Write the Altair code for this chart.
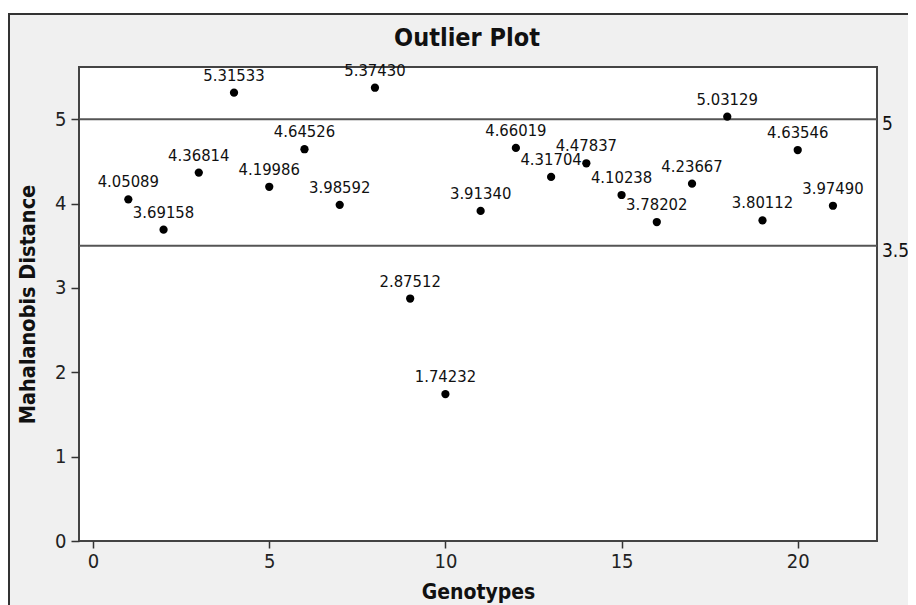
import altair as alt
import pandas as pd

genotypes = list(range(1, 22))
distances = [4.05089, 3.69158, 4.36814, 5.31533, 4.19986, 4.64526, 3.98592,
             5.37430, 2.87512, 1.74232, 3.91340, 4.66019, 4.31704, 4.47837,
             4.10238, 3.78202, 4.23667, 5.03129, 3.80112, 4.63546, 3.97490]
point_labels = [f"{v:.5f}" for v in distances]
ref_values = [5, 3.5]
ref_labels = ["5", "3.5"]
x_ticks = [0, 5, 10, 15, 20]
y_ticks = [0, 1, 2, 3, 4, 5]
title_text = "Outlier Plot"

W, H = 798, 474
FONT = "DejaVu Sans Condensed, DejaVu Sans"

df = pd.DataFrame({"g": genotypes, "d": distances, "lab": point_labels})
refdf = pd.DataFrame({"v": ref_values, "lab": ref_labels})
one = pd.DataFrame({"t": [title_text]})

xscale = alt.Scale(domain=[-0.4, 22.25], nice=False, zero=False)
yscale = alt.Scale(domain=[0, 5.62], nice=False, zero=False)

xaxis = alt.Axis(values=x_ticks, title="Genotypes", grid=False, domain=False,
                 tickSize=7, tickColor="#333", tickWidth=1.5, format="d",
                 labelFontSize=20, labelFont=FONT, labelColor="#222", labelPadding=3,
                 titleFontSize=21, titleFontWeight="bold", titleFont=FONT, titleColor="#111",
                 titleY=57, titleBaseline="alphabetic", zindex=1)
yaxis = alt.Axis(values=y_ticks, title="Mahalanobis Distance", grid=False, domain=False,
                 tickSize=8, tickColor="#333", tickWidth=1.5, format="d",
                 labelFontSize=20, labelFont=FONT, labelColor="#222", labelPadding=5,
                 titleFontSize=21.5, titleFontWeight="bold", titleFont=FONT, titleColor="#111",
                 titleX=-51, titleY=H / 2, titleAngle=-90, titleBaseline="middle",
                 titleAlign="center", zindex=1)

bg = alt.Chart(one).mark_rect(fill="#f0f0f0", stroke="#333", strokeWidth=2).encode(
    x=alt.value(-70), x2=alt.value(W + 60), y=alt.value(-53), y2=alt.value(H + 90))
plot_bg = alt.Chart(one).mark_rect(fill="white", stroke="#444", strokeWidth=2).encode(
    x=alt.value(0), x2=alt.value(W), y=alt.value(0), y2=alt.value(H))
title = alt.Chart(one).mark_text(font=FONT, fontSize=25, fontWeight="bold", color="#111",
                                 baseline="middle", align="center").encode(
    text="t:N", x=alt.value(388), y=alt.value(-29))

rules = alt.Chart(refdf).mark_rule(color="#555", strokeWidth=2).encode(
    y=alt.Y("v:Q", scale=yscale, axis=yaxis), x=alt.value(0), x2=alt.value(W))
ref_text = alt.Chart(refdf).mark_text(font=FONT, fontSize=19, color="#111", align="left",
                                      baseline="middle", dy=5).encode(
    y=alt.Y("v:Q", scale=yscale, axis=yaxis), x=alt.value(W + 5), text="lab:N")

points = alt.Chart(df).mark_circle(size=68, color="black", opacity=1).encode(
    x=alt.X("g:Q", scale=xscale, axis=xaxis),
    y=alt.Y("d:Q", scale=yscale, axis=yaxis))
labels = alt.Chart(df).mark_text(font=FONT, fontSize=16.5, color="#111", dy=-17,
                                 baseline="middle", align="center").encode(
    x=alt.X("g:Q", scale=xscale, axis=xaxis),
    y=alt.Y("d:Q", scale=yscale, axis=yaxis),
    text="lab:N")

chart = alt.layer(bg, plot_bg, rules, ref_text, points, labels, title).properties(
    width=W, height=H,
    autosize=alt.AutoSizeParams(type="none"),
    padding={"left": 71, "top": 59, "right": 31, "bottom": 64},
    background="white",
).configure_view(strokeWidth=0)

chart.save("out.html", embed_options={"renderer": "svg", "actions": False})
